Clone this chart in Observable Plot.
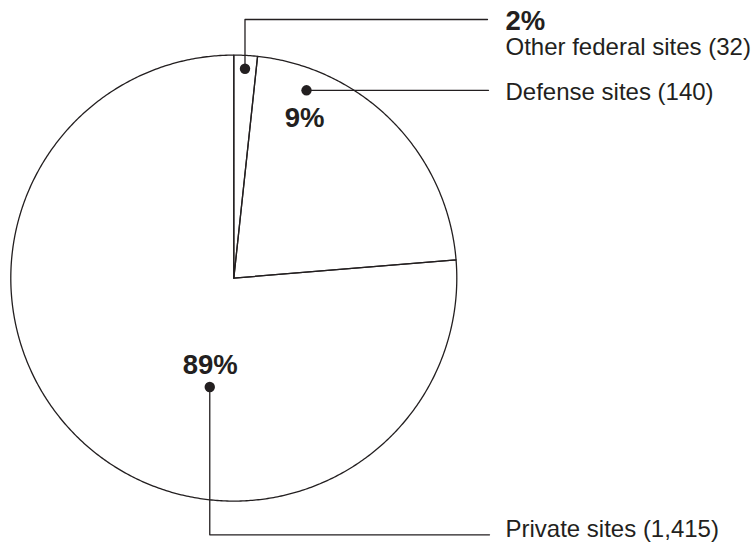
<!DOCTYPE html>
<html><head><meta charset="utf-8">
<script src="https://cdn.jsdelivr.net/npm/d3@7"></script>
<script src="https://cdn.jsdelivr.net/npm/@observablehq/plot@0.6"></script>
<style>
html,body{margin:0;padding:0;background:#fff}
#chart svg{display:block}
</style>
</head><body><div id="chart"></div>
<script>
// ---- data ----
const categories = ["Other federal sites", "Defense sites", "Private sites"];
const counts = [32, 140, 1415];
const percentLabels = ["2%", "9%", "89%"];
// share of the circle each slice occupies as drawn in the reference (percent)
const drawnShare = [1.7, 22.0, 76.3];

// ---- layout ----
const W = 753, H = 544;
const cx = 233.3, cy = 277.6, R = 223;
const ink = "#231f20";
const fontFamily = "'Liberation Sans', Arial, Helvetica, sans-serif";

const pt = (a, r) => [cx + r * Math.sin(a), cy - r * Math.cos(a)];

const pie = d3.pie().sort(null).value(d => d)(drawnShare);

// slice outlines
const sliceLines = [];
pie.forEach((s, i) => {
  const cat = categories[i];
  sliceLines.push({cat, x: cx, y: cy});
  const n = Math.max(2, Math.ceil((s.endAngle - s.startAngle) / (Math.PI / 360)));
  for (let k = 0; k <= n; k++) {
    const a = s.startAngle + (s.endAngle - s.startAngle) * k / n;
    const [x, y] = pt(a, R);
    sliceLines.push({cat, x, y});
  }
  sliceLines.push({cat, x: cx, y: cy});
});

// label anchor inside each slice: fraction along the slice angle, fraction of radius
const anchorSpec = [
  {t: 0.5, rf: 0.94},
  {t: 0.19, rf: 0.903},
  {t: 0.39, rf: 0.50}
];
const dots = pie.map((s, i) => {
  const a = s.startAngle + (s.endAngle - s.startAngle) * anchorSpec[i].t;
  const [x, y] = pt(a, R * anchorSpec[i].rf);
  return {cat: categories[i], x, y};
});

// leader lines: dot -> elbow -> end
const leaderEnd = [ {elbowY: 19, endX: 487}, {elbowY: null, endX: 488}, {elbowY: 534.3, endX: 489} ];
const leaders = [];
dots.forEach((d, i) => {
  const L = leaderEnd[i];
  leaders.push({cat: d.cat, x: d.x, y: d.y});
  if (L.elbowY != null) {
    leaders.push({cat: d.cat, x: d.x, y: L.elbowY});
    leaders.push({cat: d.cat, x: L.endX, y: L.elbowY});
  } else {
    leaders.push({cat: d.cat, x: L.endX, y: d.y});
  }
});

const labelX = 505;
const nameLabels = [
  {text: `${categories[0]} (${d3.format(",")(counts[0])})`, x: labelX, y: 54.5},
  {text: `${categories[1]} (${d3.format(",")(counts[1])})`, x: labelX, y: 99.5},
  {text: `${categories[2]} (${d3.format(",")(counts[2])})`, x: labelX, y: 536}
];
const pctLabels = [
  {text: percentLabels[0], x: labelX, y: 29, anchor: "start"},
  {text: percentLabels[1], x: 304, y: 126.5, anchor: "middle"},
  {text: percentLabels[2], x: 209.7, y: 373, anchor: "middle"}
];

const chart = Plot.plot({
  width: W, height: H,
  margin: 0,
  style: {fontFamily, background: "#fff"},
  x: {domain: [0, W], range: [0, W], axis: null},
  y: {domain: [0, H], range: [0, H], axis: null},
  marks: [
    Plot.line(sliceLines, {x: "x", y: "y", z: "cat", stroke: ink, strokeWidth: 1.3, curve: "linear"}),
    Plot.line(leaders, {x: "x", y: "y", z: "cat", stroke: ink, strokeWidth: 1.3, curve: "linear"}),
    Plot.dot(dots, {x: "x", y: "y", r: 5.2, fill: ink, stroke: null}),
    Plot.text(nameLabels, {x: "x", y: "y", text: "text", textAnchor: "start", lineAnchor: "bottom", fontSize: 24, fill: ink}),
    Plot.text(pctLabels.filter(d => d.anchor === "start"), {x: "x", y: "y", text: "text", textAnchor: "start", lineAnchor: "bottom", fontSize: 27.5, fontWeight: "bold", fill: ink}),
    Plot.text(pctLabels.filter(d => d.anchor === "middle"), {x: "x", y: "y", text: "text", textAnchor: "middle", lineAnchor: "bottom", fontSize: 27.5, fontWeight: "bold", fill: ink})
  ]
});
document.getElementById("chart").appendChild(chart);
</script>
</body></html>
